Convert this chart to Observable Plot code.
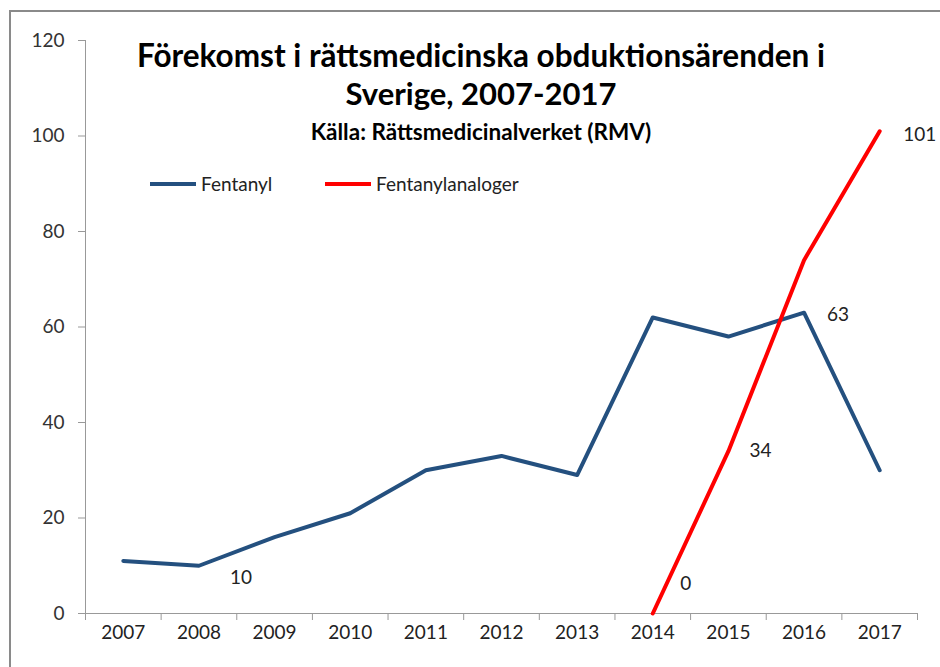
<!DOCTYPE html>
<html><head><meta charset="utf-8">
<script src="https://cdn.jsdelivr.net/npm/d3@7"></script>
<script src="https://cdn.jsdelivr.net/npm/@observablehq/plot@0.6"></script>
<style>
body{margin:0;background:#fff;font-family:Lato,"Noto Sans",sans-serif;}
#wrap{position:relative;width:940px;height:667px;overflow:hidden;}
#frame{position:absolute;left:9px;top:10px;width:960px;height:700px;border:2px solid #8a8a8a;box-sizing:border-box;}
.t{position:absolute;left:0;width:962px;text-align:center;color:#000;font-weight:bold;white-space:nowrap;}
#t1{top:36px;font-size:31.5px;}
#t2{top:74px;font-size:31px;}
#t3{top:118px;font-size:22.5px;}
.lg{position:absolute;top:172px;font-size:19px;color:#222;display:flex;align-items:center;}
.sw{display:inline-block;width:46px;height:4px;margin-right:5px;}
svg{position:absolute;left:0;top:0;}
</style></head>
<body><div id="wrap"><div id="frame"></div></div>
<script>
const years = [2007,2008,2009,2010,2011,2012,2013,2014,2015,2016,2017];
const fentanyl = [11,10,16,21,30,33,29,62,58,63,30];
const analogYears = [2014,2015,2016,2017];
const analoger = [0,34,74,101];
const yTicks = [0,20,40,60,80,100,120];
const labelSeries = ["Fentanyl","Fentanylanaloger","Fentanylanaloger","Fentanyl","Fentanylanaloger"];
const labelYears = [2008,2014,2015,2016,2017];
const labelValues = [10,0,34,63,101];
const labelDx = [42,33,32,34,40];
const labelDy = [12,-30,0,2,4];
const titleLines = ["Förekomst i rättsmedicinska obduktionsärenden i","Sverige, 2007-2017"];
const subtitle = "Källa: Rättsmedicinalverket (RMV)";
const seriesNames = ["Fentanyl","Fentanylanaloger"];
const seriesColors = ["#24507f","#ff0000"];

const fData = years.map((y,i)=>({year:y,value:fentanyl[i]}));
const aData = analogYears.map((y,i)=>({year:y,value:analoger[i]}));
const lData = labelYears.map((y,i)=>({year:y,value:labelValues[i],series:labelSeries[i],dx:labelDx[i],dy:labelDy[i]}));
const bounds = d3.range(years[0]-0.5, years[years.length-1]+1, 1);

const plot = Plot.plot({
  width:940, height:667,
  marginLeft:85, marginRight:23, marginTop:40, marginBottom:54,
  style:{fontFamily:"Lato, 'Noto Sans', sans-serif", background:"transparent", overflow:"visible"},
  x:{type:"linear", domain:[years[0]-0.5, years[years.length-1]+0.5]},
  y:{domain:[0,120]},
  marks:[
    Plot.axisY({ticks:yTicks, tickSize:7, tickPadding:14, fontSize:19, color:"#333", stroke:"#999", label:null}),
    Plot.axisX({ticks:bounds, tickSize:7, tickFormat:()=>"", stroke:"#999", label:null}),
    Plot.axisX({ticks:years, tickSize:0, tickPadding:12, tickFormat:d=>String(d), fontSize:19, color:"#222", label:null}),
    Plot.ruleX([bounds[0]], {y1:0, y2:120, stroke:"#999"}),
    Plot.ruleY([0], {stroke:"#999"}),
    Plot.line(fData, {x:"year", y:"value", stroke:seriesColors[0], strokeWidth:4}),
    Plot.line(aData, {x:"year", y:"value", stroke:seriesColors[1], strokeWidth:4}),
    ...lData.map(d=>Plot.text([d], {x:"year", y:"value", text:d=>String(d.value), dx:d.dx, dy:d.dy, fontSize:19, fill:"#222"}))
  ]
});
const wrap = document.getElementById("wrap");
wrap.appendChild(plot);
titleLines.forEach((t,i)=>{const d=document.createElement("div");d.className="t";d.id="t"+(i+1);d.textContent=t;wrap.appendChild(d);});
const s=document.createElement("div");s.className="t";s.id="t3";s.textContent=subtitle;wrap.appendChild(s);
const lgX=[150,325];
seriesNames.forEach((n,i)=>{const d=document.createElement("div");d.className="lg";d.style.left=lgX[i]+"px";
  const sw=document.createElement("span");sw.className="sw";sw.style.background=seriesColors[i];
  d.appendChild(sw);d.appendChild(document.createTextNode(n));wrap.appendChild(d);});
</script></body></html>
